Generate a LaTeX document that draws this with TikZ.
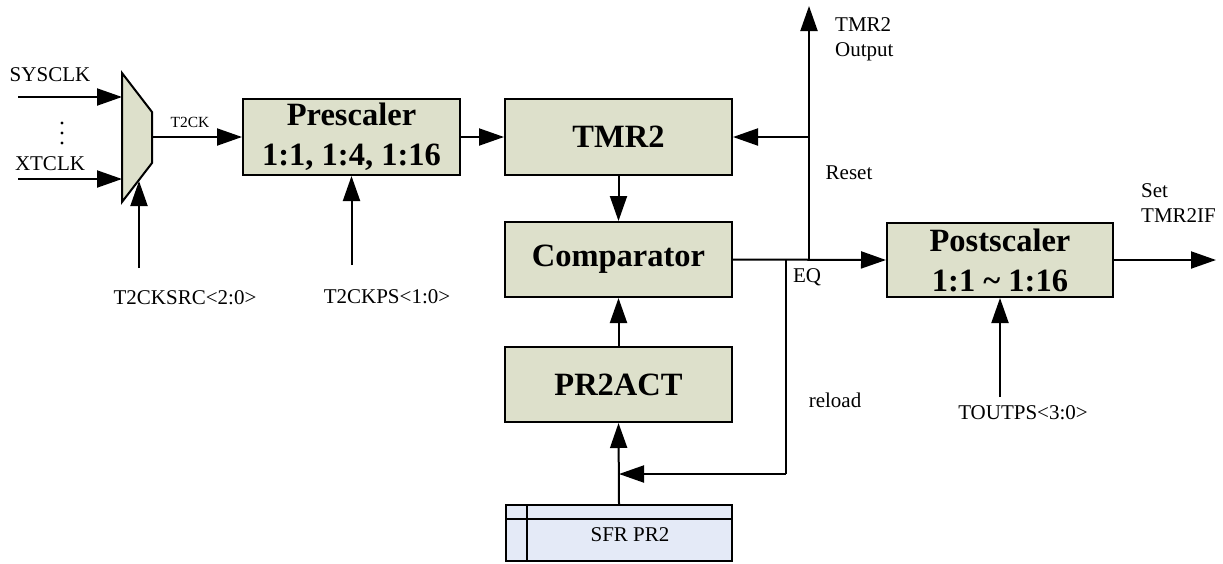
\documentclass[tikz,border=0pt]{standalone}
\usepackage{fontspec}
\setmainfont{Liberation Serif}
\usetikzlibrary{arrows.meta}
\definecolor{boxfill}{RGB}{221,224,203}
\definecolor{sfrfill}{RGB}{228,234,247}
\tikzset{
  blk/.style={draw=black, line width=2pt, fill=boxfill, align=center, inner sep=0pt,
    font=\fontsize{32.5}{40}\selectfont\bfseries},
  lbl/.style={inner sep=0pt, font=\fontsize{21}{25}\selectfont},
  wire/.style={line width=2pt},
  arr/.style={line width=2pt, -{Triangle[length=25pt,width=17pt]}},
}
\begin{document}
\begin{tikzpicture}[x=1pt,y=-1pt]
\useasboundingbox (0,0) rectangle (1223,563);
% multiplexer
\draw[line width=2pt, fill=boxfill] (122,73) -- (152,112) -- (152,163) -- (122,202) -- cycle;
\coordinate (muxA) at (122,97);
\coordinate (muxB) at (122,179);
\coordinate (muxOut) at (152,137);
\coordinate (muxSel) at (139,181);
\coordinate (sysIn) at (18,97);
\coordinate (xtIn) at (18,179);
\coordinate (selIn) at (139,268);
\node[lbl] (sysclk) at (50,75) {SYSCLK};
\node[lbl] (xtclk) at (50,164) {XTCLK};
\fill (62,123) circle (1.7) (62,133) circle (1.7) (62,143) circle (1.7);
\node[lbl, font=\fontsize{15.5}{18}\selectfont] (t2ck) at (190,122) {T2CK};
\node[lbl] (t2cksrc) at (185,298) {T2CKSRC<2:0>};

% blocks
\node[blk, minimum width=217pt, minimum height=76pt] (pre) at (351.5,137) {Prescaler\\1:1, 1:4, 1:16};
\node[blk, minimum width=227pt, minimum height=76pt] (tmr) at (618.5,137) {TMR2};
\node[blk, minimum width=227pt, minimum height=75pt] (cmp) at (618.5,259.5) {Comparator};
\node[blk, minimum width=227pt, minimum height=75pt] (pr2) at (618.5,384.5) {PR2ACT};
\node[blk, minimum width=226pt, minimum height=74pt] (post) at (1000,260) {Postscaler\\1:1 \char`~{} 1:16};

% SFR PR2
\node[draw=black, line width=2pt, fill=sfrfill, minimum width=226pt, minimum height=56pt, inner sep=0pt] (sfr) at (619,533) {};
\draw[wire] (sfr.north west) ++(0,15) -- ++(226,0);
\draw[wire] (sfr.north west) ++(22,0) -- ++(0,56);
\node[lbl] (sfrtxt) at (630,535) {SFR PR2};

% labels
\node[lbl] (t2ckps) at (387,297) {T2CKPS<1:0>};
\node[lbl, align=left, anchor=north west] (tmrout) at (835,17) {TMR2\\Output};
\node[lbl] (reset) at (849,173) {Reset};
\node[lbl] (eq) at (807,277) {EQ};
\node[lbl, align=left, anchor=north west] (settmr) at (1141,183) {Set\\TMR2IF};
\node[lbl] (toutps) at (1023,413) {TOUTPS<3:0>};
\node[lbl] (reload) at (835,400) {reload};

% coordinates
\coordinate (preIn) at (351.5,265);
\coordinate (eqJ) at (786,260);
\coordinate (outJ) at (809,260);
\coordinate (rstJ) at (809,137);
\coordinate (outTop) at (809,6);
\coordinate (relB) at (786,474);
\coordinate (relT) at (619,474);
\coordinate (setOut) at (1216,260);
\coordinate (toIn) at (1000,397);

% connectors
\draw[arr] (sysIn) -- (muxA);
\draw[arr] (xtIn) -- (muxB);
\draw[arr] (selIn) -- (muxSel);
\draw[arr] (muxOut) -- (pre.west);
\draw[arr] (preIn) -- (pre.south);
\draw[arr] (pre.east) -- (tmr.west);
\draw[arr] (tmr.south) -- (cmp.north);
\draw[arr] (pr2.north) -- (cmp.south);
\draw[arr] (sfr.north) -- (pr2.south);
\draw[arr] (cmp.east) -- (post.west);
\draw[arr] (outJ) -- (outTop);
\draw[arr] (rstJ) -- (tmr.east);
\draw[wire] (eqJ) -- (relB);
\draw[arr] (relB) -- (relT);
\draw[arr] (post.east) -- (setOut);
\draw[arr] (toIn) -- (post.south);
\end{tikzpicture}
\end{document}
